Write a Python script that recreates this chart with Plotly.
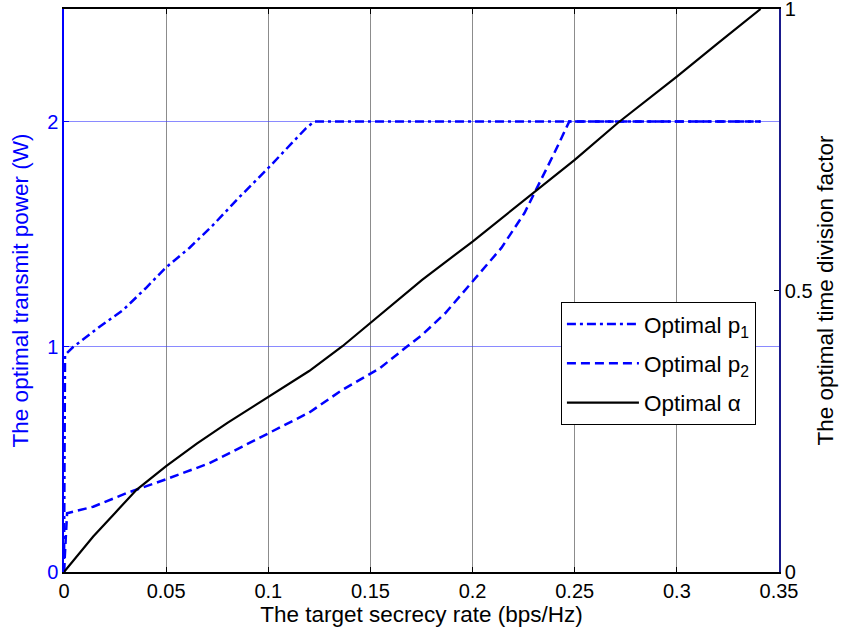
import plotly.graph_objects as go

# ---- data ----
x_p1 = [0, 0.0005, 0.0046, 0.0176, 0.029, 0.04, 0.05, 0.0615, 0.0729, 0.0859, 0.1, 0.1102, 0.1184, 0.1224, 0.341]
p1 = [0, 0.964, 1.0, 1.09, 1.164, 1.26, 1.353, 1.44, 1.54, 1.665, 1.794, 1.89, 1.97, 2.0, 2.0]

x_p2 = [0, 0.0015, 0.0143, 0.0306, 0.05, 0.0712, 0.0873, 0.1, 0.1087, 0.12, 0.1363, 0.15, 0.1546,
        0.1676, 0.1753, 0.1867, 0.2, 0.2141, 0.2254, 0.2319, 0.24, 0.2473, 0.341]
p2 = [0, 0.261, 0.29, 0.35, 0.412, 0.483, 0.557, 0.615, 0.653, 0.708, 0.809, 0.88, 0.905,
      0.999, 1.053, 1.15, 1.29, 1.439, 1.594, 1.712, 1.86, 2.0, 2.0]

x_alpha = [0, 0.005, 0.0143, 0.025, 0.0355, 0.05, 0.065, 0.08, 0.1, 0.11, 0.12, 0.1363, 0.15,
           0.1753, 0.2, 0.2319, 0.25, 0.2712, 0.3, 0.32, 0.341]
alpha = [0, 0.022, 0.063, 0.105, 0.146, 0.188, 0.228, 0.265, 0.311, 0.334, 0.357, 0.401, 0.443,
         0.519, 0.587, 0.680, 0.732, 0.798, 0.880, 0.939, 1.0]

x_ticks = [0, 0.05, 0.1, 0.15, 0.2, 0.25, 0.3, 0.35]
x_ticktext = ["0", "0.05", "0.1", "0.15", "0.2", "0.25", "0.3", "0.35"]
y1_ticks = [0, 1, 2]
y2_ticks = [0, 0.5, 1]
y2_ticktext = ["0", "0.5", "1"]

FONT = "Liberation Sans, Arial, sans-serif"
BLUE = "#0000ff"
TICK = 20
TITLE = 22.5
LEG = 22.5

fig = go.Figure()
fig.add_trace(go.Scatter(x=x_p1, y=p1, mode="lines", name="Optimal p<sub>1</sub>",
                         legendgroup="a",
                         line=dict(color=BLUE, width=2.5, dash="9px,4px,3px,4px")))
fig.add_trace(go.Scatter(x=x_p2, y=p2, mode="lines", name="Optimal p<sub>2</sub>",
                         legendgroup="b",
                         line=dict(color=BLUE, width=2.5, dash="9px,5px")))
fig.add_trace(go.Scatter(x=x_alpha, y=alpha, mode="lines", name="Optimal α",
                         legendgroup="c", yaxis="y2",
                         line=dict(color="black", width=2.2)))

fig.update_layout(
    width=842, height=636,
    margin=dict(l=64, r=63, t=9, b=64),
    paper_bgcolor="white", plot_bgcolor="white",
    font=dict(family=FONT, size=TICK, color="black"),
    xaxis=dict(range=[0, 0.35], tickvals=x_ticks, ticktext=x_ticktext, automargin=False,
               ticks="inside", ticklen=5, tickcolor="black", ticklabeloverflow="allow",
               showline=True, linecolor="black", linewidth=1.5, mirror="ticks",
               showgrid=True, gridcolor="#8c8c8c", gridwidth=1, zeroline=False,
               tickfont=dict(size=TICK, color="black"),
               title=dict(text="The target secrecy rate (bps/Hz)", font=dict(size=TITLE, color="black"),
                          standoff=3)),
    yaxis=dict(range=[0, 2.5], tickvals=y1_ticks, ticks="inside", ticklen=5, tickcolor=BLUE,
               automargin=False, ticklabeloverflow="allow",
               showline=True, linecolor=BLUE, linewidth=1.5,
               showgrid=True, gridcolor="rgba(60,60,255,0.6)", gridwidth=1, zeroline=False,
               tickfont=dict(size=TICK, color=BLUE),
               title=dict(text="The optimal transmit power (W)", font=dict(size=TITLE, color=BLUE),
                          standoff=12)),
    yaxis2=dict(range=[0, 1], tickvals=y2_ticks, ticktext=y2_ticktext, overlaying="y", side="right",
                automargin=False, ticklabeloverflow="allow",
                ticks="inside", ticklen=5, tickcolor="black",
                showline=True, linecolor="#1a1a8c", linewidth=1.5,
                showgrid=False, zeroline=False,
                tickfont=dict(size=TICK, color="black"),
                title=dict(text="The optimal time division factor", font=dict(size=TITLE, color="black"),
                           standoff=6)),
    legend=dict(x=0.695, y=0.4796, xanchor="left", yanchor="top",
                bgcolor="white", bordercolor="black", borderwidth=1,
                font=dict(size=LEG, color="black"), tracegroupgap=7,
                itemwidth=72),
    showlegend=True,
)

# remove the browser's default 8px body margin so the figure fills the window exactly
fig.write_html("out.html", config={"displayModeBar": False},
               post_script="document.body.style.margin='0px';document.body.style.overflow='hidden';")
